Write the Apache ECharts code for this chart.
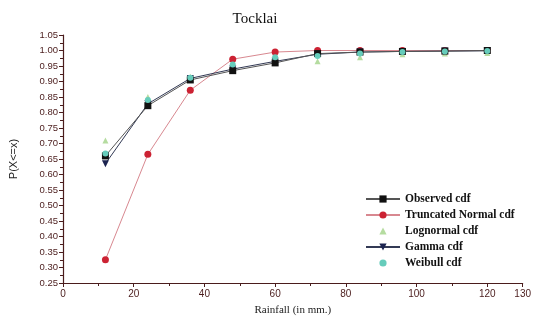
<!DOCTYPE html>
<html><head><meta charset="utf-8">
<script src="https://cdn.jsdelivr.net/npm/echarts@6/dist/echarts.min.js"></script>
<style>html,body{margin:0;padding:0;background:#fff}#c{width:534px;height:326px}</style>
</head><body><div id="c"></div>
<script>
const rainfall = [12, 24, 36, 48, 60, 72, 84, 96, 108, 120];
const observed = [0.660, 0.822, 0.905, 0.935, 0.960, 0.990, 0.995, 0.997, 0.998, 1.000];
const truncNormal = [0.325, 0.665, 0.872, 0.972, 0.995, 1.000, 1.000, 1.000, 1.000, 1.000];
const lognormal = [0.710, 0.850, 0.915, 0.945, 0.970, 0.965, 0.978, 0.988, 0.990, 0.992];
const gamma = [0.635, 0.828, 0.910, 0.940, 0.965, 0.988, 0.995, 0.997, 0.998, 0.999];
const weibull = [0.668, 0.840, 0.912, 0.955, 0.978, 0.982, 0.990, 0.995, 0.997, 0.998];
const yTicks = [0.25, 1.05, 0.05];
const xTicks = [0, 130, 20];

const pairs = a => rainfall.map((x, i) => [x, a[i]]);
const axisCol = '#4a1c1c';
const chart = echarts.init(document.getElementById('c'));
chart.setOption({
  animation: false,
  backgroundColor: '#fff',
  title: { text: 'Tocklai', left: 250, top: 7, textAlign: 'center',
    textStyle: { fontFamily: 'Liberation Serif', fontSize: 15, fontWeight: 'normal', color: '#111' } },
  grid: { left: 63, right: 3, top: 35, bottom: 43 },
  legend: {
    left: 360, top: 188, orient: 'vertical', itemGap: 4, itemWidth: 34, itemHeight: 9,
    textStyle: { fontFamily: 'Liberation Serif', fontSize: 11.5, fontWeight: 'bold', color: '#111' },
    data: ['Observed cdf', 'Truncated Normal cdf', 'Lognormal cdf', 'Gamma cdf', 'Weibull cdf']
  },
  xAxis: {
    type: 'value', min: xTicks[0], max: xTicks[1], interval: xTicks[2],
    name: 'Rainfall (in mm.)', nameLocation: 'middle', nameGap: 22,
    nameTextStyle: { fontFamily: 'Liberation Serif', fontSize: 11, color: '#222' },
    axisLine: { lineStyle: { color: axisCol, width: 1.2 } },
    axisTick: { lineStyle: { color: axisCol }, length: 4 },
    minorTick: { show: true, splitNumber: 2, length: 3, lineStyle: { color: axisCol } },
    splitLine: { show: false },
    axisLabel: { fontFamily: 'Liberation Sans', fontSize: 10, color: axisCol, margin: 6 }
  },
  yAxis: {
    type: 'value', min: yTicks[0], max: yTicks[1], interval: yTicks[2],
    name: 'P(X<=x)', nameLocation: 'middle', nameGap: 44, nameRotate: 90,
    nameTextStyle: { fontFamily: 'Liberation Sans', fontSize: 11, color: '#222' },
    axisLine: { show: true, lineStyle: { color: axisCol, width: 1.2 } },
    axisTick: { show: true, lineStyle: { color: axisCol }, length: 4 },
    minorTick: { show: true, splitNumber: 2, length: 3, lineStyle: { color: axisCol } },
    splitLine: { show: false },
    axisLabel: { fontFamily: 'Liberation Sans', fontSize: 9.5, color: axisCol, margin: 5,
      formatter: v => v.toFixed(2) }
  },
  series: [
    { name: 'Observed cdf', type: 'line', data: pairs(observed), symbol: 'rect', symbolSize: 7,
      itemStyle: { color: '#111' }, lineStyle: { color: '#555', width: 1 }, z: 5 },
    { name: 'Truncated Normal cdf', type: 'line', data: pairs(truncNormal), symbol: 'circle', symbolSize: 7,
      itemStyle: { color: '#cc2233' }, lineStyle: { color: '#d88890', width: 1 }, z: 3 },
    { name: 'Lognormal cdf', type: 'line', data: pairs(lognormal), symbol: 'triangle', symbolSize: 6,
      itemStyle: { color: '#b5dca0' }, lineStyle: { opacity: 0 }, z: 4 },
    { name: 'Gamma cdf', type: 'line', data: pairs(gamma), symbol: 'triangle', symbolRotate: 180, symbolSize: 7,
      itemStyle: { color: '#1c2450' }, lineStyle: { color: '#333a55', width: 1 }, z: 4 },
    { name: 'Weibull cdf', type: 'line', data: pairs(weibull), symbol: 'circle', symbolSize: 6,
      itemStyle: { color: '#66ccbb' }, lineStyle: { opacity: 0 }, z: 6 }
  ]
});
</script></body></html>
